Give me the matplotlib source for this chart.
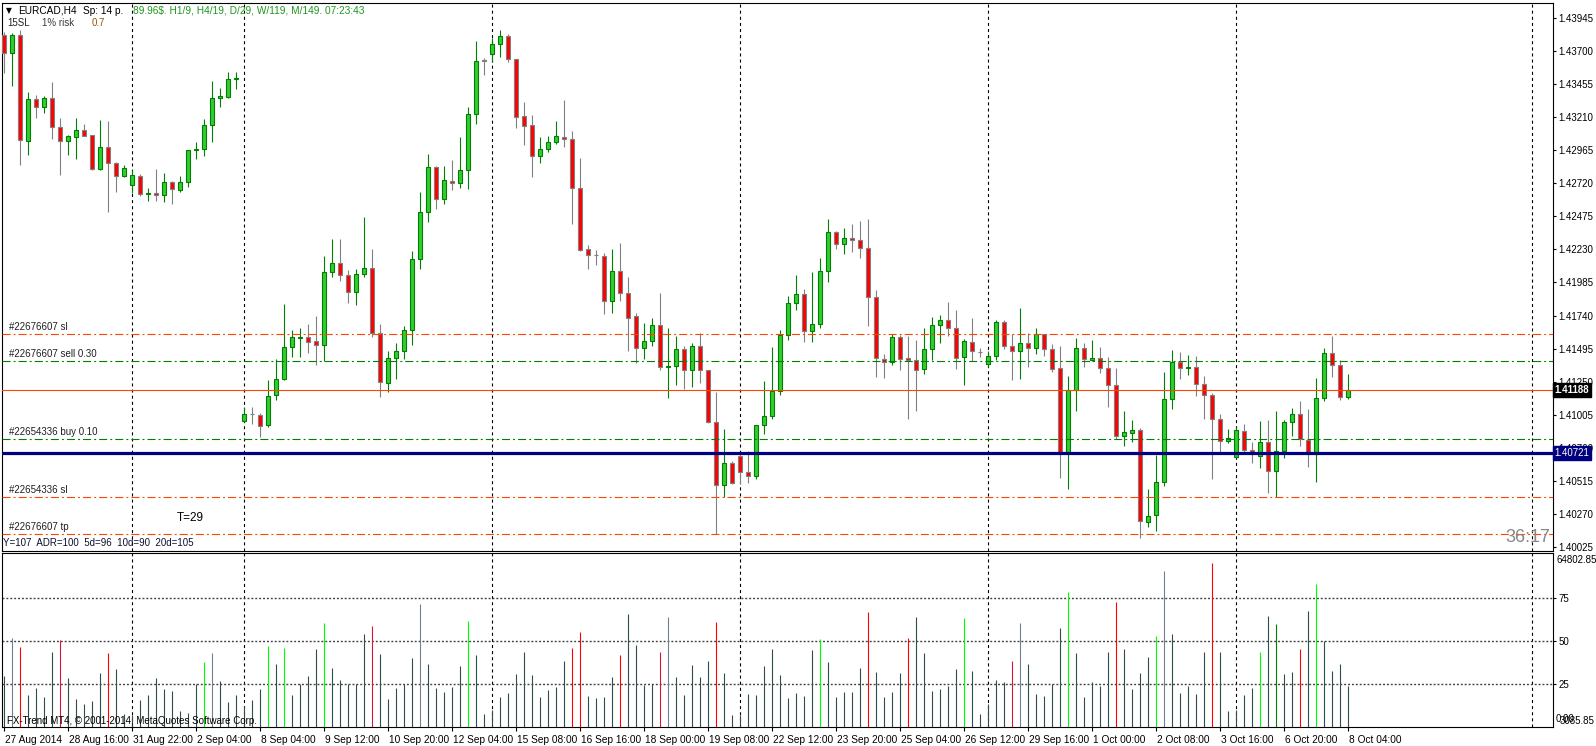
import numpy as np
import matplotlib
matplotlib.use('Agg')
import matplotlib.pyplot as plt
from matplotlib.transforms import ScaledTranslation

plt.rcParams['font.family'] = ['Liberation Sans', 'DejaVu Sans']
plt.rcParams['lines.scale_dashes'] = False

# ---- data (EURCAD H4 candles) ----
opens = [
    1.43821, 1.43686, 1.43821, 1.43037, 1.43344, 1.43289, 1.43352, 1.43136, 1.43037, 1.43067,
    1.43114, 1.43077, 1.42825, 1.42990, 1.42869, 1.42773, 1.42711, 1.42775, 1.42639, 1.42649,
    1.42632, 1.42728, 1.42673, 1.42728, 1.42968, 1.42973, 1.43151, 1.43352, 1.43359, 1.43493,
    1.40957, 1.41009, 1.41002, 1.40928, 1.41148, 1.41267, 1.41504, 1.41573, 1.41578, 1.41549,
    1.41519, 1.42061, 1.42127, 1.42038, 1.41912, 1.42046, 1.42090, 1.41608, 1.41237, 1.41422,
    1.41474, 1.41630, 1.42157, 1.42506, 1.42840, 1.42602, 1.42736, 1.42721, 1.42817, 1.43233,
    1.43631, 1.43678, 1.43752, 1.43814, 1.43641, 1.43220, 1.43154, 1.42921, 1.42973, 1.43027,
    1.43067, 1.43047, 1.42684, 1.42231, 1.42187, 1.42179, 1.41850, 1.42068, 1.41905, 1.41734,
    1.41501, 1.41549, 1.41667, 1.41358, 1.41363, 1.41489, 1.41333, 1.41511, 1.41333, 1.40952,
    1.40480, 1.40643, 1.40700, 1.40577, 1.40547, 1.40925, 1.40992, 1.41178, 1.41593, 1.41831,
    1.41897, 1.41623, 1.41675, 1.42068, 1.42357, 1.42268, 1.42313, 1.42298, 1.42239, 1.41875,
    1.41415, 1.41393, 1.41578, 1.41422, 1.41408, 1.41341, 1.41489, 1.41667, 1.41704, 1.41645,
    1.41430, 1.41541, 1.41471, 1.41378, 1.41437, 1.41690, 1.41511, 1.41474, 1.41534, 1.41497,
    1.41600, 1.41489, 1.41348, 1.40718, 1.41185, 1.41497, 1.41408, 1.41422, 1.41348, 1.41222,
    1.40844, 1.40866, 1.40888, 1.40206, 1.40257, 1.40502, 1.41118, 1.41393, 1.41348, 1.41356,
    1.41234, 1.41148, 1.40970, 1.40807, 1.40688, 1.40881, 1.40740, 1.40695, 1.40799, 1.40584,
    1.40732, 1.40948, 1.41007, 1.40814, 1.40710, 1.41130, 1.41460, 1.41371, 1.41133]
highs = [
    1.43846, 1.43834, 1.43858, 1.43401, 1.43376, 1.43369, 1.43473, 1.43205, 1.43079, 1.43205,
    1.43161, 1.43080, 1.43191, 1.43183, 1.42881, 1.42857, 1.42820, 1.42790, 1.42688, 1.42827,
    1.42795, 1.42738, 1.42775, 1.42970, 1.43027, 1.43196, 1.43478, 1.43426, 1.43547, 1.43547,
    1.41061, 1.41061, 1.41017, 1.41261, 1.41417, 1.41825, 1.41632, 1.41645, 1.41677, 1.41736,
    1.42181, 1.42305, 1.42305, 1.42078, 1.42083, 1.42469, 1.42231, 1.41677, 1.41477, 1.41534,
    1.41662, 1.42219, 1.42654, 1.42936, 1.42849, 1.42849, 1.42894, 1.43065, 1.43285, 1.43777,
    1.43653, 1.43797, 1.43856, 1.43829, 1.43645, 1.43324, 1.43228, 1.43065, 1.43072, 1.43183,
    1.43339, 1.43109, 1.42909, 1.42263, 1.42226, 1.42204, 1.42233, 1.42278, 1.42026, 1.41759,
    1.41684, 1.41721, 1.41907, 1.41647, 1.41588, 1.41511, 1.41534, 1.41608, 1.41335, 1.41170,
    1.40898, 1.40660, 1.40725, 1.40735, 1.40927, 1.41254, 1.41506, 1.41632, 1.41885, 1.42041,
    1.41934, 1.42063, 1.42164, 1.42454, 1.42369, 1.42387, 1.42417, 1.42441, 1.42454, 1.41929,
    1.41454, 1.41603, 1.41598, 1.41588, 1.41558, 1.41647, 1.41729, 1.41744, 1.41840, 1.41781,
    1.41563, 1.41721, 1.41497, 1.41477, 1.41707, 1.41707, 1.41600, 1.41793, 1.41608, 1.41645,
    1.41602, 1.41529, 1.41514, 1.41289, 1.41573, 1.41534, 1.41556, 1.41509, 1.41432, 1.41348,
    1.41031, 1.40965, 1.40903, 1.40450, 1.40703, 1.41319, 1.41482, 1.41467, 1.41445, 1.41440,
    1.41289, 1.41163, 1.41009, 1.40898, 1.40913, 1.40933, 1.40801, 1.40957, 1.40965, 1.41031,
    1.40965, 1.41051, 1.41106, 1.41044, 1.41276, 1.41499, 1.41588, 1.41410, 1.41306]
lows = [
    1.43537, 1.43445, 1.42857, 1.42931, 1.43208, 1.43245, 1.43050, 1.42785, 1.42933, 1.42903,
    1.43072, 1.42822, 1.42822, 1.42510, 1.42659, 1.42765, 1.42647, 1.42629, 1.42592, 1.42592,
    1.42584, 1.42570, 1.42659, 1.42696, 1.42899, 1.42926, 1.43030, 1.43289, 1.43356, 1.43423,
    1.40953, 1.40935, 1.40838, 1.40913, 1.41113, 1.41261, 1.41430, 1.41434, 1.41460, 1.41371,
    1.41400, 1.42023, 1.41998, 1.41835, 1.41820, 1.42023, 1.41583, 1.41138, 1.41175, 1.41271,
    1.41419, 1.41523, 1.42083, 1.42436, 1.42528, 1.42565, 1.42671, 1.42684, 1.42681, 1.43163,
    1.43527, 1.43623, 1.43660, 1.43623, 1.43133, 1.43005, 1.42770, 1.42874, 1.42955, 1.43010,
    1.42993, 1.42419, 1.42221, 1.42085, 1.42115, 1.41751, 1.41761, 1.41848, 1.41479, 1.41390,
    1.41419, 1.41516, 1.41338, 1.41130, 1.41227, 1.41197, 1.41207, 1.41241, 1.40945, 1.40119,
    1.40396, 1.40488, 1.40488, 1.40499, 1.40529, 1.40863, 1.40974, 1.41148, 1.41560, 1.41783,
    1.41546, 1.41546, 1.41650, 1.41991, 1.42236, 1.42199, 1.42209, 1.42169, 1.41664, 1.41286,
    1.41279, 1.41373, 1.41336, 1.40974, 1.41034, 1.41308, 1.41410, 1.41538, 1.41588, 1.41345,
    1.41227, 1.41400, 1.41434, 1.41360, 1.41412, 1.41494, 1.41264, 1.41271, 1.41360, 1.41452,
    1.41442, 1.41323, 1.40536, 1.40455, 1.41034, 1.41356, 1.41400, 1.41316, 1.41063, 1.40826,
    1.40770, 1.40799, 1.40091, 1.40168, 1.40139, 1.40473, 1.41048, 1.41271, 1.41296, 1.41145,
    1.40974, 1.40529, 1.40729, 1.40796, 1.40686, 1.40729, 1.40648, 1.40611, 1.40425, 1.40391,
    1.40686, 1.40844, 1.40770, 1.40618, 1.40507, 1.41108, 1.41286, 1.41115, 1.41118]
closes = [
    1.43686, 1.43821, 1.43042, 1.43344, 1.43289, 1.43352, 1.43136, 1.43037, 1.43070, 1.43116,
    1.43074, 1.42825, 1.42990, 1.42869, 1.42773, 1.42834, 1.42783, 1.42642, 1.42649, 1.42632,
    1.42728, 1.42676, 1.42728, 1.42968, 1.42975, 1.43151, 1.43352, 1.43366, 1.43493, 1.43500,
    1.41009, 1.41007, 1.40920, 1.41146, 1.41267, 1.41504, 1.41578, 1.41578, 1.41541, 1.41519,
    1.42061, 1.42127, 1.42038, 1.41912, 1.42046, 1.42090, 1.41608, 1.41244, 1.41422, 1.41474,
    1.41630, 1.42157, 1.42506, 1.42840, 1.42602, 1.42743, 1.42721, 1.42817, 1.43233, 1.43626,
    1.43630, 1.43752, 1.43814, 1.43641, 1.43215, 1.43148, 1.42921, 1.42973, 1.43027, 1.43070,
    1.43047, 1.42684, 1.42228, 1.42187, 1.42186, 1.41850, 1.42068, 1.41905, 1.41719, 1.41501,
    1.41549, 1.41667, 1.41356, 1.41363, 1.41489, 1.41333, 1.41511, 1.41333, 1.40952, 1.40480,
    1.40643, 1.40499, 1.40577, 1.40547, 1.40925, 1.40992, 1.41178, 1.41593, 1.41831, 1.41897,
    1.41623, 1.41675, 1.42068, 1.42357, 1.42268, 1.42313, 1.42298, 1.42239, 1.41875, 1.41422,
    1.41393, 1.41578, 1.41415, 1.41408, 1.41333, 1.41489, 1.41667, 1.41707, 1.41645, 1.41422,
    1.41549, 1.41474, 1.41470, 1.41437, 1.41690, 1.41511, 1.41474, 1.41534, 1.41497, 1.41600,
    1.41489, 1.41341, 1.40718, 1.41185, 1.41497, 1.41415, 1.41422, 1.41348, 1.41222, 1.40844,
    1.40873, 1.40888, 1.40213, 1.40250, 1.40502, 1.41118, 1.41393, 1.41348, 1.41356, 1.41234,
    1.41148, 1.40970, 1.40807, 1.40829, 1.40888, 1.40740, 1.40710, 1.40799, 1.40584, 1.40732,
    1.40948, 1.41007, 1.40821, 1.40710, 1.41128, 1.41460, 1.41371, 1.41133, 1.41188]

# volume panel (0-100 scale of the sub window)
volumes = [
    29.5, 51.7, 46.7, 18.4, 22.5, 17.6, 43.4, 50.8, 28.7, 16.5,
    13.2, 15.3, 31.6, 43.2, 33.9, 7.4, 6.8, 15.9, 18.8, 28.7,
    22.3, 21.1, 9.5, 8.1, 24.8, 38.0, 43.2, 26.9, 14.7, 18.4,
    12.0, 15.9, 22.3, 47.3, 36.8, 46.1, 18.6, 25.0, 29.8, 45.5,
    60.7, 34.5, 27.5, 25.0, 25.0, 54.3, 58.9, 42.6, 16.5, 22.5,
    24.8, 40.3, 71.7, 36.8, 22.9, 20.5, 23.4, 35.7, 61.8, 42.1,
    7.8, 10.0, 17.6, 20.0, 31.0, 43.8, 30.4, 17.6, 21.7, 23.4,
    38.6, 46.1, 55.4, 18.2, 17.1, 17.6, 29.3, 42.1, 65.9, 47.9,
    24.6, 24.8, 43.8, 64.1, 29.3, 18.8, 36.2, 29.3, 38.6, 61.2,
    31.6, 7.2, 7.2, 19.4, 18.8, 35.7, 45.5, 30.4, 17.1, 20.0,
    18.2, 45.0, 51.2, 38.0, 17.6, 20.5, 20.5, 34.5, 67.1, 32.2,
    17.6, 20.5, 31.6, 51.9, 64.1, 43.2, 21.1, 22.3, 24.0, 33.9,
    63.6, 32.8, 7.8, 13.6, 27.5, 26.4, 38.6, 60.7, 36.8, 19.4,
    18.2, 24.8, 57.8, 78.7, 43.2, 17.6, 26.2, 24.0, 43.8, 72.9,
    45.5, 22.3, 31.6, 40.9, 53.1, 90.9, 54.3, 20.0, 24.0, 19.4,
    43.8, 95.5, 43.8, 9.5, 10.1, 18.8, 22.9, 43.8, 64.7, 60.1,
    31.0, 32.2, 45.5, 67.6, 83.3, 50.2, 32.8, 36.8, 24.0]
vol_lime = [25, 33, 35, 40, 58, 102, 120, 133, 144, 157, 164]
vol_red = [2, 13, 71, 72, 77, 89, 108, 113, 139, 151, 162]
vol_crimson = [7, 46, 82, 126]
vol_gray = [1, 26, 52, 83, 127, 145]
vol_dkgreen = [159]

price_ticks = [1.40025, 1.40270, 1.40515, 1.40760, 1.41005, 1.41250, 1.41495, 1.41740,
               1.41985, 1.42230, 1.42475, 1.42720, 1.42965, 1.43210, 1.43455, 1.43700, 1.43945]
time_labels = ['27 Aug 2014', '28 Aug 16:00', '31 Aug 22:00', '2 Sep 04:00', '8 Sep 04:00',
               '9 Sep 12:00', '10 Sep 20:00', '12 Sep 04:00', '15 Sep 08:00', '16 Sep 16:00',
               '18 Sep 00:00', '19 Sep 08:00', '22 Sep 12:00', '23 Sep 20:00', '25 Sep 04:00',
               '26 Sep 12:00', '29 Sep 16:00', '1 Oct 00:00', '2 Oct 08:00', '3 Oct 16:00',
               '6 Oct 20:00', '8 Oct 04:00']
week_starts = [16, 30, 61, 92, 123, 154, 191]

order_prices = [1.41601, 1.41400, 1.40824, 1.40392, 1.40117]
order_names = ['#22676607 sl', '#22676607 sell 0.30', '#22654336 buy 0.10',
               '#22654336 sl', '#22676607 tp']
order_is_entry = [False, True, True, False, False]
bid = 1.41188
level_line = 1.40721
vol_levels = [25, 50, 75]

W, H = 1596, 746
fig = plt.figure(figsize=(W / 100, H / 100), dpi=100)
fig.patch.set_facecolor('white')

def fx(x):
    return x / W

def fy(y):
    return 1 - y / H

L, R = 2, 1553
ax = fig.add_axes([fx(L), fy(551), (R - L) / W, (551 - 3) / H])
axv = fig.add_axes([fx(L), fy(727), (R - L) / W, (727 - 553) / H])
xl = ((L - 4) / 8, (R - 4) / 8)
for a in (ax, axv):
    a.set_xlim(*xl)
    a.set_facecolor('white')
    for s in a.spines.values():
        s.set_linewidth(0.8)
        s.set_color('black')
ax.set_ylim(1.399931, 1.440585)
axv.set_ylim(0, 101.2)

# ---- candles ----
o, hi, lo, c = map(np.array, (opens, highs, lows, closes))
idx = np.arange(len(o))
up = c >= o
dn = ~up
ax.vlines(idx[up], lo[up], hi[up], color='#008000', lw=0.8, zorder=2)
ax.vlines(idx[dn], lo[dn], hi[dn], color='#808080', lw=0.8, zorder=2)
body_lo = np.minimum(o, c)
body_h = np.maximum(np.abs(c - o), 0.00002)
ax.bar(idx[up], body_h[up], bottom=body_lo[up], width=0.5, color='#32CD32',
       edgecolor='#008000', lw=0.8, zorder=3)
ax.bar(idx[dn], body_h[dn], bottom=body_lo[dn], width=0.5, color='#FF0000',
       edgecolor='#808080', lw=0.8, zorder=3)

# ---- lines ----
dashdot = (5.8, 2.2, 1.4, 2.2)
for p, name, entry in zip(order_prices, order_names, order_is_entry):
    col = '#008000' if entry else '#FF4500'
    ax.axhline(p, color=col, lw=0.8, dashes=dashdot, zorder=4)
    ax.text(0.0045, p, name, transform=ax.get_yaxis_transform() +
            ScaledTranslation(0, 2 / 100, fig.dpi_scale_trans),
            fontsize=7, color='#202020', va='bottom', ha='left', zorder=6)
ax.axhline(bid, color='#FF4500', lw=0.8, zorder=4)
ax.axhline(level_line, color='#000080', lw=2.3, zorder=4)

for a in (ax, axv):
    for w in week_starts:
        a.axvline(w, color='black', lw=0.8, dashes=(2.2, 2.2), zorder=1)
for v in vol_levels:
    axv.axhline(v, color='#404040', lw=1.0, dashes=(1.4, 1.4), zorder=1)

# ---- volume bars ----
vcol = ['#2F4F4F'] * len(volumes)
for group, col in ((vol_lime, '#00FF00'), (vol_red, '#FF0000'), (vol_crimson, '#DC143C'),
                   (vol_gray, '#708090'), (vol_dkgreen, '#008000')):
    for i in group:
        vcol[i] = col
axv.vlines(idx, 0, volumes, colors=vcol, lw=0.8, zorder=2)

# ---- axes ticks ----
ax.tick_params(axis='x', bottom=False, labelbottom=False)
ax.yaxis.tick_right()
ax.set_yticks(price_ticks)
ax.set_yticklabels(['%.5f' % p for p in price_ticks])
ax.tick_params(axis='y', direction='out', length=2.2, width=0.8, pad=1.5, labelsize=7)

axv.yaxis.tick_right()
axv.set_yticks(vol_levels)
axv.set_yticklabels([str(v) for v in vol_levels])
axv.tick_params(axis='y', direction='out', length=2.2, width=0.8, pad=1.5, labelsize=7)
axv.set_xticks(np.arange(len(time_labels)) * 8)
axv.set_xticklabels(time_labels, ha='left')
axv.tick_params(axis='x', direction='out', length=3, width=0.8, pad=2.5, labelsize=7.3)
for t in axv.get_xticklabels():
    t.set_transform(t.get_transform() + ScaledTranslation(1 / 100, 0, fig.dpi_scale_trans))

# price boxes on the right scale
ax.text(1.001, bid, '%.5f' % bid, transform=ax.get_yaxis_transform(), fontsize=7,
        fontweight='bold', color='white', va='center', ha='left', zorder=10,
        bbox=dict(boxstyle='square,pad=0.2', fc='black', ec='black'))
ax.text(1.001, level_line, '%.5f' % level_line, transform=ax.get_yaxis_transform(),
        fontsize=7, color='white', va='center', ha='left', zorder=10,
        bbox=dict(boxstyle='square,pad=0.2', fc='#000080', ec='#000080'))

axv.text(1.002, 97.3, '64802.85', transform=axv.get_yaxis_transform(), fontsize=7,
         va='center', ha='left')
axv.text(1.004, 3.2, '3085.85', transform=axv.get_yaxis_transform(), fontsize=7,
         va='center', ha='left')
axv.text(1.002, 4.6, '0.00', transform=axv.get_yaxis_transform(), fontsize=7,
         va='center', ha='left')

# ---- header / info texts ----
fig.text(fx(9), fy(10.5), '\u25bc', fontsize=5.5, family='DejaVu Sans', ha='center', va='center')
fig.text(fx(18), fy(10.7), 'EURCAD,H4', fontsize=7.3, va='center')
fig.text(fx(83), fy(10.7), 'Sp: 14 p.', fontsize=7.3, va='center')
fig.text(fx(133), fy(10.7), '89.96$. H1/9, H4/19, D/29, W/119, M/149. 07:23:43',
         fontsize=7.3, color='#1E961E', va='center')
fig.text(fx(7), fy(23.5), '15SL', fontsize=7, color='#202020', va='center')
fig.text(fx(42), fy(23.5), '1% risk', fontsize=7, color='#3a3a3a', va='center')
fig.text(fx(92), fy(23.5), '0.7', fontsize=7, color='#8B5A00', va='center')
fig.text(fx(190), fy(518), 'T=29', fontsize=8.5, ha='center', va='center')
fig.text(fx(3), fy(543.5), 'Y=107  ADR=100  5d=96  10d=90  20d=105', fontsize=7,
         color='#101030', va='center')
fig.text(fx(1528), fy(537), '36:17', fontsize=13, color='#888888', ha='center', va='center')
fig.text(fx(7), fy(721), 'FX-Trend MT4, \u00a9 2001-2014, MetaQuotes Software Corp.',
         fontsize=7, va='center')

fig.savefig('out.png', dpi=100, facecolor='white')
